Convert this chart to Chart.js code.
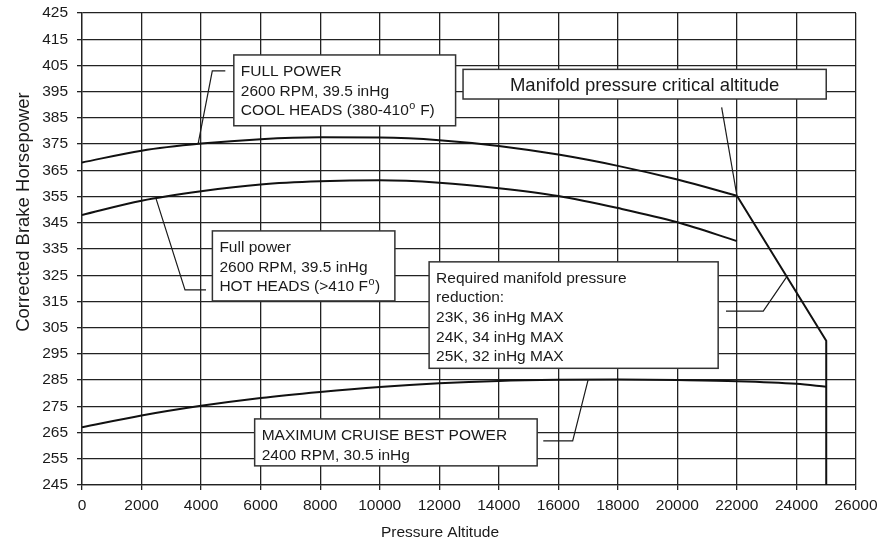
<!DOCTYPE html>
<html>
<head>
<meta charset="utf-8">
<script src="https://cdn.jsdelivr.net/npm/chart.js@4.4.0/dist/chart.umd.min.js"></script>
<style>
  html, body { margin: 0; padding: 0; background: #fff; }
</style>
</head>
<body>
<canvas id="hpChart" width="880" height="541"></canvas>
<script>
// altitude (ft) and corrected brake horsepower
const altitudes = [0, 2000, 4000, 6000, 8000, 10000, 12000, 14000, 16000, 18000, 20000, 22000];
const coolHeadsHp = [368, 372.5, 375.2, 376.9, 377.6, 377.5, 376.5, 374.3, 371, 366.7, 361.5, 355.3];
const hotHeadsHp = [348, 353.4, 357, 359.6, 360.8, 361.2, 360.3, 358.2, 355.2, 350.6, 345.2, 338];
const cruiseAltitudes = [0, 2000, 4000, 6000, 8000, 10000, 12000, 14000, 16000, 18000, 20000, 22000, 24000, 25000];
const cruiseHp = [267, 271.5, 275.2, 278.2, 280.5, 282.4, 283.8, 284.7, 285.1, 285.2, 285, 284.6, 283.6, 282.5];
const criticalAltitudes = [22000, 25000, 25000];
const criticalHp = [355.3, 300, 245];

const xTicks = [0, 2000, 4000, 6000, 8000, 10000, 12000, 14000, 16000, 18000, 20000, 22000, 24000, 26000];
const yTicks = [245, 255, 265, 275, 285, 295, 305, 315, 325, 335, 345, 355, 365, 375, 385, 395, 405, 415, 425];

// annotation texts ({o} = superscript o)
const coolHeadsNote = ['FULL POWER', '2600 RPM, 39.5 inHg', 'COOL HEADS (380-410{o} F)'];
const hotHeadsNote = ['Full power', '2600 RPM, 39.5 inHg', 'HOT HEADS (>410 F{o})'];
const criticalNote = ['Manifold pressure critical altitude'];
const reductionNote = ['Required manifold pressure', 'reduction:', '23K, 36 inHg MAX', '24K, 34 inHg MAX', '25K, 32 inHg MAX'];
const cruiseNote = ['MAXIMUM CRUISE BEST POWER', '2400 RPM, 30.5 inHg'];

// note boxes in data units: [altLeft, hpTop, altRight, hpBottom]
const coolHeadsBox = [5100, 409, 12550, 382];
const hotHeadsBox = [4380, 341.9, 10510, 315.2];
const criticalBox = [12800, 403.5, 25000, 392.2];
const reductionBox = [11660, 330.1, 21370, 289.5];
const cruiseBox = [5800, 270.2, 15290, 252.3];

// leader lines in data units
const coolHeadsLeader = [[3900, 375.1], [4377, 402.9], [4814, 402.9]];
const hotHeadsLeader = [[2476, 354.6], [3460, 319.4], [4165, 319.4]];
const criticalLeader = [[21487, 389], [22000, 355.3]];
const reductionLeader = [[21632, 311.3], [22885, 311.3], [23671, 324.4]];
const cruiseLeader = [[15495, 261.8], [16483, 261.8], [17007, 285.4]];

const FONT = "'Liberation Sans', Arial, Helvetica, sans-serif";
const INK = '#1a1a1a';

function toPoints(xs, ys) {
  return xs.map((a, i) => ({ x: a, y: ys[i] }));
}

function drawRich(ctx, text, x, y, size) {
  // plain text with {o} superscripts
  const parts = text.split(/(\{[^}]*\})/);
  parts.forEach(p => {
    if (!p) return;
    if (p[0] === '{') {
      const s = p.slice(1, -1);
      ctx.font = (size * 0.7) + 'px ' + FONT;
      ctx.fillText(s, x + 0.5, y - size * 0.4);
      x += ctx.measureText(s).width + 1;
    } else {
      ctx.font = size + 'px ' + FONT;
      ctx.fillText(p, x, y);
      x += ctx.measureText(p).width;
    }
  });
}

const notesPlugin = {
  id: 'notes',
  afterDatasetsDraw(chart) {
    const { ctx, scales: { x, y }, chartArea } = chart;
    ctx.save();

    ctx.strokeStyle = INK;
    ctx.lineWidth = 1.2;
    [coolHeadsLeader, hotHeadsLeader, criticalLeader, reductionLeader, cruiseLeader].forEach(pts => {
      ctx.beginPath();
      pts.forEach(([a, v], i) => {
        const px = x.getPixelForValue(a), py = y.getPixelForValue(v);
        if (i) ctx.lineTo(px, py); else ctx.moveTo(px, py);
      });
      ctx.stroke();
    });

    const boxes = [
      { box: coolHeadsBox, lines: coolHeadsNote, size: 15.5 },
      { box: hotHeadsBox, lines: hotHeadsNote, size: 15.5 },
      { box: reductionBox, lines: reductionNote, size: 15.5 },
      { box: cruiseBox, lines: cruiseNote, size: 15.5 },
      { box: criticalBox, lines: criticalNote, size: 18.5, center: true }
    ];
    boxes.forEach(n => {
      const l = x.getPixelForValue(n.box[0]), r = x.getPixelForValue(n.box[2]);
      const t = y.getPixelForValue(n.box[1]), b = y.getPixelForValue(n.box[3]);
      ctx.fillStyle = '#fff';
      ctx.fillRect(l, t, r - l, b - t);
      ctx.strokeStyle = '#333';
      ctx.lineWidth = 1.5;
      ctx.strokeRect(l, t, r - l, b - t);
      ctx.fillStyle = INK;
      ctx.textBaseline = 'alphabetic';
      if (n.center) {
        ctx.font = n.size + 'px ' + FONT;
        ctx.textAlign = 'center';
        ctx.fillText(n.lines[0], (l + r) / 2, (t + b) / 2 + n.size * 0.36);
        ctx.textAlign = 'left';
      } else {
        ctx.textAlign = 'left';
        n.lines.forEach((line, i) => {
          drawRich(ctx, line, l + 7, t + 21 + i * 19.6, n.size);
        });
      }
    });

    // axis titles
    ctx.fillStyle = INK;
    ctx.textAlign = 'center';
    ctx.textBaseline = 'middle';
    ctx.font = '15.5px ' + FONT;
    ctx.fillText('Pressure Altitude', 440, chartArea.bottom + 48);
    ctx.translate(24, chartArea.top + 199);
    ctx.rotate(-Math.PI / 2);
    ctx.font = '18.5px ' + FONT;
    ctx.fillText('Corrected Brake Horsepower', 0, 0);
    ctx.restore();
  }
};

const lineStyle = {
  borderColor: '#111',
  borderWidth: 2,
  pointRadius: 0,
  fill: false
};

const ctx = document.getElementById('hpChart').getContext('2d');
const hpChart = new Chart(ctx, {
  type: 'line',
  data: {
    datasets: [
      { label: 'Full power, cool heads', data: toPoints(altitudes, coolHeadsHp), cubicInterpolationMode: 'monotone', ...lineStyle },
      { label: 'Full power, hot heads', data: toPoints(altitudes, hotHeadsHp), cubicInterpolationMode: 'monotone', ...lineStyle },
      { label: 'Maximum cruise best power', data: toPoints(cruiseAltitudes, cruiseHp), cubicInterpolationMode: 'monotone', ...lineStyle },
      { label: 'Critical altitude', data: toPoints(criticalAltitudes, criticalHp), tension: 0, ...lineStyle }
    ]
  },
  options: {
    responsive: false,
    animation: false,
    layout: { padding: { top: 13, right: 24, left: 0, bottom: 0 } },
    plugins: {
      legend: { display: false },
      tooltip: { enabled: false }
    },
    scales: {
      x: {
        type: 'linear',
        min: 0,
        max: 26000,
        afterBuildTicks: (scale) => { scale.ticks = xTicks.map(v => ({ value: v })); },
        afterFit: (scale) => {
          scale.height = 56;
          scale.paddingLeft = 0;
          scale.paddingRight = 0;
        },
        grid: { color: '#222', lineWidth: 1.3, tickLength: 5 },
        border: { color: '#222', width: 1.3 },
        ticks: {
          color: INK,
          padding: 6,
          maxRotation: 0,
          font: { family: FONT, size: 15.5 },
          callback: (v) => String(v)
        }
      },
      y: {
        min: 245,
        max: 425,
        afterBuildTicks: (scale) => { scale.ticks = yTicks.map(v => ({ value: v })); },
        afterFit: (scale) => {
          scale.width = 82;
          scale.paddingTop = 0;
          scale.paddingBottom = 0;
        },
        grid: { color: '#222', lineWidth: 1.3, tickLength: 5 },
        border: { color: '#222', width: 1.3 },
        ticks: {
          color: INK,
          padding: 9,
          font: { family: FONT, size: 15.5 },
          callback: (v) => String(v)
        }
      }
    }
  },
  plugins: [notesPlugin]
});
</script>
</body>
</html>
